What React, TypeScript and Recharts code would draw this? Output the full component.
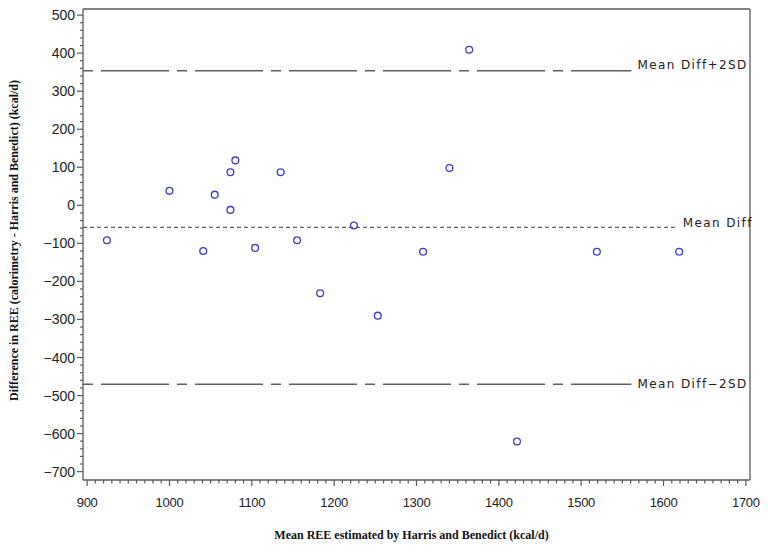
import { ReferenceLine, Scatter, ScatterChart, XAxis, YAxis } from 'recharts'

// mean of the two methods (x) and their difference (y), kcal/d
const meanRee = [924, 1000, 1055, 1041, 1074, 1080, 1074, 1104, 1135, 1155, 1183, 1224, 1253, 1308, 1340, 1364, 1422, 1519, 1619]
const diffRee = [-92, 38, 28, -120, 87, 118, -12, -112, 87, -92, -231, -53, -290, -122, 98, 409, -621, -122, -122]

const limitLabels = ['Mean Diff+2SD', 'Mean Diff', 'Mean Diff\u22122SD']
const limitValues = [354, -58, -470]

const xMajorTicks = [900, 1000, 1100, 1200, 1300, 1400, 1500, 1600, 1700]
const yMajorTicks = [-700, -600, -500, -400, -300, -200, -100, 0, 100, 200, 300, 400, 500]

const X_MIN = 895
const X_MAX = 1705
const Y_MIN = -722
const Y_MAX = 516

// minor ticks every 10 on x, every 20 on y
const xTicks = Array.from({ length: 81 }, (_, i) => 900 + i * 10)
const yTicks = Array.from({ length: 61 }, (_, i) => -700 + i * 20)

const points = meanRee.map((x, i) => ({ x, y: diffRee[i] }))

const AXIS = '#5a5a5a'
const POINT = '#3b3bcc'
const TS = 6
const TM = 4

const fmt = (v: number) => (v < 0 ? '\u2212' + Math.abs(v) : String(v))

function XTick(props: any) {
  const { x, y, payload } = props
  const v = payload.value
  const major = xMajorTicks.includes(v)
  const axisY = y - TS - TM
  return (
    <g>
      <line x1={x} x2={x} y1={axisY} y2={axisY + (major ? 6 : 3.5)} stroke={AXIS} strokeWidth={1.2} />
      {major && (
        <text x={x} y={axisY + 26.5} textAnchor="middle" fontFamily="Liberation Sans, Arial, sans-serif" fontSize={13} letterSpacing={-0.3} fill="#222">
          {v}
        </text>
      )}
    </g>
  )
}

function YTick(props: any) {
  const { x, y, payload } = props
  const v = payload.value
  const major = yMajorTicks.includes(v)
  const axisX = x + TS + TM
  return (
    <g>
      <line x1={axisX - (major ? 6 : 3)} x2={axisX} y1={y} y2={y} stroke={AXIS} strokeWidth={1.2} />
      {major && (
        <text x={axisX - 8} y={y} dy="0.36em" textAnchor="end" fontFamily="Liberation Sans, Arial, sans-serif" fontSize={14} fill="#222">
          {fmt(v)}
        </text>
      )}
    </g>
  )
}

const limitStyle: Record<string, { dash: string; end: number; dy: number; width: number }> = {
  'Mean Diff+2SD': { dash: '10 8 68 8', end: 1561, dy: -6, width: 1.5 },
  'Mean Diff': { dash: '4 3', end: 1616, dy: -5, width: 1.2 },
  'Mean Diff\u22122SD': { dash: '10 8 68 8', end: 1561, dy: 0, width: 1.5 },
}

function limitLabel(text: string, dy: number) {
  return (props: any) => {
    const vb = props.viewBox
    return (
      <text
        x={vb.x + vb.width + 6}
        y={vb.y + dy}
        dy="0.35em"
        fontFamily="DejaVu Sans, sans-serif"
        fontSize={12}
        letterSpacing={1.4}
        fill="#222"
      >
        {text}
      </text>
    )
  }
}

function yTitle(props: any) {
  const vb = props.viewBox
  const cx = vb.x + 14
  const cy = vb.y + vb.height / 2 - 4
  return (
    <text
      x={cx}
      y={cy}
      transform={`rotate(-90, ${cx}, ${cy})`}
      textAnchor="middle"
      dominantBaseline="central"
      fontFamily="Liberation Serif, Times New Roman, serif"
      fontWeight="bold"
      fontSize={12}
      fill="#111"
    >
      Difference in REE (calorimetry - Harris and Benedict) (kcal/d)
    </text>
  )
}

function xTitle(props: any) {
  const vb = props.viewBox
  return (
    <text
      x={vb.x + vb.width / 2 - 5}
      y={vb.y + 55}
      textAnchor="middle"
      dominantBaseline="central"
      fontFamily="Liberation Serif, Times New Roman, serif"
      fontWeight="bold"
      fontSize={12}
      fill="#111"
    >
      Mean REE estimated by Harris and Benedict (kcal/d)
    </text>
  )
}

function Circle(props: any) {
  return <circle cx={props.cx} cy={props.cy} r={3.4} fill="none" stroke={POINT} strokeWidth={1.3} />
}

export default function App() {
  return (
    <div style={{ position: 'absolute', left: 0, top: 0, width: 768, height: 552, background: '#fff' }}>
      <ScatterChart width={768} height={552} margin={{ top: 9, right: 18, bottom: 0, left: 0 }}>
        <XAxis
          type="number"
          dataKey="x"
          domain={[X_MIN, X_MAX]}
          ticks={xTicks}
          interval={0}
          height={72}
          tickSize={TS}
          tickMargin={TM}
          tickLine={false}
          tick={<XTick />}
          axisLine={{ stroke: AXIS, strokeWidth: 1.3 }}
          label={xTitle}
        />
        <YAxis
          type="number"
          dataKey="y"
          domain={[Y_MIN, Y_MAX]}
          ticks={yTicks}
          interval={0}
          width={83}
          tickSize={TS}
          tickMargin={TM}
          tickLine={false}
          tick={<YTick />}
          axisLine={{ stroke: AXIS, strokeWidth: 1.3 }}
          label={yTitle}
        />
        <ReferenceLine x={X_MAX} stroke={AXIS} strokeWidth={1.3} />
        <ReferenceLine y={Y_MAX} stroke={AXIS} strokeWidth={1.3} />
        {limitLabels.map((name, i) => {
          const s = limitStyle[name]
          return (
            <ReferenceLine
              key={name}
              segment={[
                { x: X_MIN, y: limitValues[i] },
                { x: s.end, y: limitValues[i] },
              ]}
              stroke="#5f5f5f"
              strokeWidth={s.width}
              strokeDasharray={s.dash}
              label={limitLabel(name, s.dy)}
            />
          )
        })}
        <Scatter data={points} shape={Circle} isAnimationActive={false} />
      </ScatterChart>
    </div>
  )
}
